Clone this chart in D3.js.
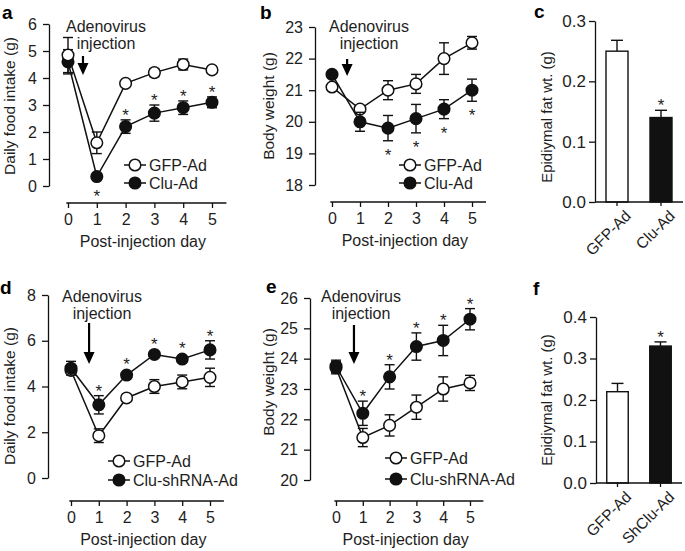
<!DOCTYPE html>
<html><head><meta charset="utf-8">
<script src="https://cdn.jsdelivr.net/npm/d3@7"></script>
<style>
body{margin:0;background:#fff}
svg{display:block;font-family:"Liberation Sans",Arial,Helvetica,sans-serif}
</style></head><body>
<svg id="chart" width="685" height="551"></svg>
<script>
// ---------- DATA ----------
const days = [0, 1, 2, 3, 4, 5];
const dayTicks = ["0", "1", "2", "3", "4", "5"];

// Panel a: daily food intake (g), Clu overexpression
const aGFP    = [4.85, 1.6, 3.8, 4.2, 4.5, 4.3];
const aGFPErr = [0.65, 0.4, 0.05, 0.15, 0.2, 0.05];
const aClu    = [4.6, 0.35, 2.2, 2.7, 2.9, 3.1];
const aCluErr = [0.45, 0.05, 0.25, 0.3, 0.25, 0.2];
const aSig    = [0, -1, 1, 1, 1, 1];          // 1 = star above, -1 = star below
const aYTicks = [0, 1, 2, 3, 4, 5, 6];

// Panel b: body weight (g), Clu overexpression
const bGFP    = [21.1, 20.4, 21.0, 21.2, 22.0, 22.5];
const bGFPErr = [0.05, 0.1, 0.3, 0.3, 0.5, 0.2];
const bClu    = [21.5, 20.0, 19.8, 20.1, 20.4, 21.0];
const bCluErr = [0.05, 0.3, 0.4, 0.45, 0.3, 0.35];
const bSig    = [0, 0, -1, -1, -1, -1];
const bYTicks = [18, 19, 20, 21, 22, 23];

// Panel c: epididymal fat
const cCats = ["GFP-Ad", "Clu-Ad"];
const cVals = [0.25, 0.14];
const cErr  = [0.018, 0.012];
const cSig  = [0, 1];
const cYTicks = [0.0, 0.1, 0.2, 0.3];

// Panel d: daily food intake (g), Clu knockdown
const dGFP    = [4.7, 1.85, 3.5, 4.0, 4.2, 4.4];
const dGFPErr = [0.1, 0.3, 0.1, 0.3, 0.3, 0.4];
const dClu    = [4.8, 3.2, 4.5, 5.4, 5.2, 5.6];
const dCluErr = [0.3, 0.4, 0.1, 0.1, 0.1, 0.4];
const dSig    = [0, 1, 1, 1, 1, 1];
const dYTicks = [0, 2, 4, 6, 8];

// Panel e: body weight (g), Clu knockdown
const eGFP    = [23.7, 21.4, 21.8, 22.4, 23.0, 23.2];
const eGFPErr = [0.2, 0.3, 0.35, 0.4, 0.4, 0.25];
const eClu    = [23.75, 22.2, 23.4, 24.4, 24.6, 25.3];
const eCluErr = [0.2, 0.4, 0.4, 0.45, 0.5, 0.35];
const eSig    = [0, 1, 1, 1, 1, 1];
const eYTicks = [20, 21, 22, 23, 24, 25, 26];

// Panel f: epididymal fat
const fCats = ["GFP-Ad", "ShClu-Ad"];
const fVals = [0.22, 0.33];
const fErr  = [0.02, 0.01];
const fSig  = [0, 1];
const fYTicks = [0.0, 0.1, 0.2, 0.3, 0.4];

// ---------- DRAWING ----------
const svg = d3.select("#chart");
const INK = "#111";
const TXT = "#1e1e1e";

function styleAxis(sel, fs) {
  sel.selectAll("path, line").attr("stroke", INK).attr("stroke-width", 1.3);
  sel.selectAll("text").attr("fill", TXT).attr("font-size", fs || 15)
     .attr("font-family", '"Liberation Sans",Arial,Helvetica,sans-serif');
}

function panelLetter(t, x, y) {
  svg.append("text").attr("x", x).attr("y", y).text(t)
     .attr("font-weight", "bold").attr("font-size", 19).attr("fill", "#000");
}

function linePanel(o) {
  const g = svg.append("g");
  const x = d3.scaleLinear().domain([0, 5]).range(o.xr);
  const y = d3.scaleLinear().domain(o.yd).range(o.yr);

  g.append("g").attr("transform", `translate(${o.yx},0)`)
    .call(d3.axisLeft(y).tickValues(o.yTicks).tickFormat(d3.format("d"))
      .tickSize(6).tickSizeOuter(0).tickPadding(6))
    .call(s => styleAxis(s, 16));

  const xa = g.append("g").attr("transform", `translate(0,${o.xy})`)
    .call(d3.axisBottom(x).tickValues(days).tickFormat((d, i) => dayTicks[i])
      .tickSize(5).tickPadding(6).tickSizeOuter(0))
    .call(s => styleAxis(s, 16));
  xa.select(".domain").attr("d", `M${x(-0.06)},0H${x(5.5)}`);

  g.append("text").attr("x", x(2.6)).attr("y", o.xy + 44).attr("text-anchor", "middle")
    .attr("font-size", 16).attr("fill", TXT).text("Post-injection day");

  g.append("text").attr("transform", `translate(${o.ylx},${o.yly}) rotate(-90)`)
    .attr("text-anchor", "middle").attr("font-size", 15.5).attr("fill", TXT).text(o.ylabel);

  // annotation
  g.append("text").attr("x", o.ann[0]).attr("y", o.ann[1]).attr("text-anchor", "middle")
    .attr("font-size", 16).attr("fill", TXT).text("Adenovirus");
  g.append("text").attr("x", o.ann[0]).attr("y", o.ann[1] + 17).attr("text-anchor", "middle")
    .attr("font-size", 16).attr("fill", TXT).text("injection");
  const ax = x(o.arrow[0]), a1 = o.arrow[1], a2 = o.arrow[2];
  g.append("line").attr("x1", ax).attr("x2", ax).attr("y1", a1).attr("y2", a2 - 8)
    .attr("stroke", "#000").attr("stroke-width", 2.2);
  g.append("path").attr("d", `M${ax - 5.5},${a2 - 12}L${ax + 5.5},${a2 - 12}L${ax},${a2}Z`).attr("fill", "#000");

  const line = d3.line().x((d, i) => x(days[i])).y(d => y(d));

  o.series.forEach(s => {
    g.append("path").datum(s.v).attr("d", line).attr("fill", "none")
      .attr("stroke", INK).attr("stroke-width", 1.5);
    const eb = g.append("g");
    s.v.forEach((v, i) => {
      const cx = x(days[i]), y1 = y(v - s.e[i]), y2 = y(v + s.e[i]);
      eb.append("line").attr("x1", cx).attr("x2", cx).attr("y1", y1).attr("y2", y2)
        .attr("stroke", INK).attr("stroke-width", 1.4);
      [y1, y2].forEach(yy => eb.append("line").attr("x1", cx - 5).attr("x2", cx + 5)
        .attr("y1", yy).attr("y2", yy).attr("stroke", INK).attr("stroke-width", 1.4));
    });
    g.selectAll(null).data(s.v).join("circle")
      .attr("cx", (d, i) => x(days[i])).attr("cy", d => y(d)).attr("r", 5.8)
      .attr("fill", s.filled ? "#111" : "#fff").attr("stroke", INK).attr("stroke-width", 1.5);
    if (s.sig) {
      s.sig.forEach((k, i) => {
        if (!k) return;
        const v = s.v[i];
        const yy = k > 0 ? Math.min(y(v + s.e[i]), y(v) - 5.8) + 1
                         : Math.max(y(v - s.e[i]), y(v) + 5.8) + 20;
        g.append("text").attr("x", x(days[i])).attr("y", yy).attr("text-anchor", "middle")
          .attr("font-size", 17).attr("fill", TXT).text("*");
      });
    }
  });

  // legend
  o.legend.forEach((L, i) => {
    const lx = o.leg[0], ly = o.leg[1] + i * o.leg[2];
    g.append("line").attr("x1", lx - 11).attr("x2", lx + 11).attr("y1", ly).attr("y2", ly)
      .attr("stroke", INK).attr("stroke-width", 1.5);
    g.append("circle").attr("cx", lx).attr("cy", ly).attr("r", 5.8)
      .attr("fill", L.filled ? "#111" : "#fff").attr("stroke", INK).attr("stroke-width", 1.5);
    g.append("text").attr("x", lx + 14).attr("y", ly + 5.8).attr("font-size", 16)
      .attr("fill", TXT).text(L.name);
  });
}

function barPanel(o) {
  const g = svg.append("g");
  const x = d3.scaleBand().domain(o.cats).range(o.xr).paddingInner(0.5).paddingOuter(0.25);
  const y = d3.scaleLinear().domain(o.yd).range(o.yr);

  g.append("g").attr("transform", `translate(${o.yx},0)`)
    .call(d3.axisLeft(y).tickValues(o.yTicks).tickFormat(d3.format(".1f"))
      .tickSize(6).tickSizeOuter(0).tickPadding(3))
    .call(s => styleAxis(s, 17));

  g.selectAll(null).data(o.vals).join("rect")
    .attr("x", (d, i) => x(o.cats[i])).attr("width", x.bandwidth())
    .attr("y", d => y(d)).attr("height", d => y(0) - y(d))
    .attr("fill", (d, i) => i ? "#111" : "#fff").attr("stroke", INK).attr("stroke-width", 1.4);

  o.vals.forEach((v, i) => {
    const cx = x(o.cats[i]) + x.bandwidth() / 2;
    g.append("line").attr("x1", cx).attr("x2", cx).attr("y1", y(v)).attr("y2", y(v + o.err[i]))
      .attr("stroke", INK).attr("stroke-width", 1.4);
    g.append("line").attr("x1", cx - 6).attr("x2", cx + 6).attr("y1", y(v + o.err[i])).attr("y2", y(v + o.err[i]))
      .attr("stroke", INK).attr("stroke-width", 1.4);
    if (o.sig[i]) g.append("text").attr("x", cx).attr("y", y(v + o.err[i]) + 1)
      .attr("text-anchor", "middle").attr("font-size", 17).attr("fill", TXT).text("*");
  });

  const xa = g.append("g").attr("transform", `translate(0,${y(0)})`)
    .call(d3.axisBottom(x).tickSize(4).tickSizeOuter(0).tickPadding(2))
    .call(s => styleAxis(s, 15.5));
  xa.select(".domain").attr("d", `M${o.yx},0H${o.xr[1]}`);
  xa.selectAll("text").attr("text-anchor", "end").attr("dy", "0.6em")
    .attr("transform", "translate(4,4) rotate(-45)");

  g.append("text").attr("transform", `translate(${o.ylx},${o.yly}) rotate(-90)`)
    .attr("text-anchor", "middle").attr("font-size", 15).attr("fill", TXT).text(o.ylabel);
}

// Panel a
panelLetter("a", 2, 19);
linePanel({
  xr: [68, 212], yd: [0, 6], yr: [186, 24], yx: 49, xy: 203, yTicks: aYTicks,
  ylabel: "Daily food intake (g)", ylx: 15, yly: 106,
  ann: [106, 32], arrow: [0.52, 56, 75],
  series: [
    { v: aClu, e: aCluErr, filled: true, sig: aSig },
    { v: aGFP, e: aGFPErr, filled: false }
  ],
  legend: [{ name: "GFP-Ad", filled: false }, { name: "Clu-Ad", filled: true }],
  leg: [135, 165, 18]
});

// Panel b
panelLetter("b", 260, 19);
linePanel({
  xr: [332, 472], yd: [18, 23], yr: [185, 27], yx: 315, xy: 202, yTicks: bYTicks,
  ylabel: "Body weight (g)", ylx: 274, yly: 106,
  ann: [369, 32], arrow: [0.54, 59, 76],
  series: [
    { v: bGFP, e: bGFPErr, filled: false },
    { v: bClu, e: bCluErr, filled: true, sig: bSig }
  ],
  legend: [{ name: "GFP-Ad", filled: false }, { name: "Clu-Ad", filled: true }],
  leg: [410, 165, 18]
});

// Panel c
panelLetter("c", 534, 18);
barPanel({
  cats: cCats, vals: cVals, err: cErr, sig: cSig, yTicks: cYTicks,
  xr: [595, 683], yd: [0, 0.3], yr: [202, 21], yx: 595,
  ylabel: "Epidiymal fat wt. (g)", ylx: 552, yly: 117
});

// Panel d
panelLetter("d", 0, 294);
linePanel({
  xr: [71, 210], yd: [0, 8], yr: [478, 295], yx: 48, xy: 501, yTicks: dYTicks,
  ylabel: "Daily food intake (g)", ylx: 15, yly: 396,
  ann: [102, 302], arrow: [0.65, 323, 364],
  series: [
    { v: dGFP, e: dGFPErr, filled: false },
    { v: dClu, e: dCluErr, filled: true, sig: dSig }
  ],
  legend: [{ name: "GFP-Ad", filled: false }, { name: "Clu-shRNA-Ad", filled: true }],
  leg: [119, 461, 19]
});

// Panel e
panelLetter("e", 266, 293);
linePanel({
  xr: [336, 470], yd: [20, 26], yr: [480, 298], yx: 310, xy: 501, yTicks: eYTicks,
  ylabel: "Body weight (g)", ylx: 274, yly: 382,
  ann: [361, 302], arrow: [0.67, 325, 364],
  series: [
    { v: eGFP, e: eGFPErr, filled: false },
    { v: eClu, e: eCluErr, filled: true, sig: eSig }
  ],
  legend: [{ name: "GFP-Ad", filled: false }, { name: "Clu-shRNA-Ad", filled: true }],
  leg: [396, 458, 21]
});

// Panel f
panelLetter("f", 533, 295);
barPanel({
  cats: fCats, vals: fVals, err: fErr, sig: fSig, yTicks: fYTicks,
  xr: [596, 682], yd: [0, 0.4], yr: [483, 317], yx: 596,
  ylabel: "Epidiymal fat wt. (g)", ylx: 552, yly: 400
});
</script>
</body></html>
